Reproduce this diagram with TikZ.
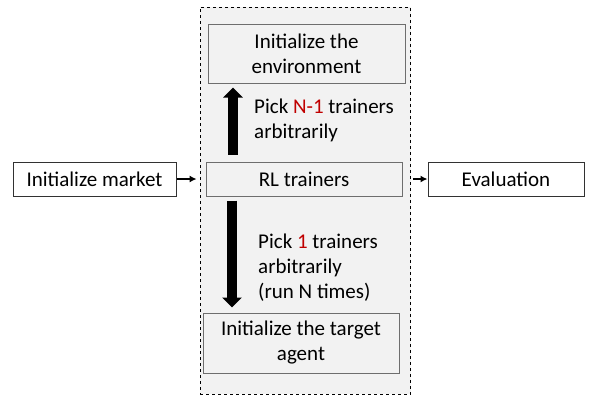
\documentclass[tikz,border=0pt]{standalone}
\usepackage{fontspec}
\setmainfont{Carlito}
\usetikzlibrary{arrows.meta}
\definecolor{panel}{RGB}{242,242,242}
\definecolor{innerline}{RGB}{110,110,110}
\definecolor{outerline}{RGB}{50,50,50}
\definecolor{accent}{RGB}{192,0,0}
\begin{document}
\begin{tikzpicture}[x=1pt,y=-1pt,
  every node/.style={font=\fontsize{21}{25}\selectfont},
  outerbox/.style={draw=outerline,line width=1pt,fill=white,inner sep=0pt},
  innerbox/.style={draw=innerline,line width=1pt,fill=panel,inner sep=0pt,align=center},
  note/.style={inner sep=0pt,align=left,anchor=west},
  smallarrow/.style={line width=1.4pt,-{Latex[length=7pt,width=7pt]}},
  bigarrow/.style={line width=10pt,-{Triangle[length=10pt,width=19pt]}}]
  \useasboundingbox (0,0) rectangle (589,397);
  % dashed stage holding the training loop
  \node[draw=black,dashed,line width=0.8pt,fill=panel,inner sep=0pt,
        minimum width=210.5pt,minimum height=387pt] (stage) at (305.25,200.5) {};
  % boxes
  \node[outerbox,minimum width=163pt,minimum height=34pt] (market) at (94.5,179) {Initialize market};
  \node[outerbox,minimum width=156pt,minimum height=34pt] (eval) at (506,179) {Evaluation};
  \node[innerbox,minimum width=196pt,minimum height=34pt] (rl) at (304,179) {RL trainers};
  \node[innerbox,minimum width=197pt,minimum height=59pt] (env) at (306.5,53.5) {Initialize the\\environment};
  \node[innerbox,minimum width=196pt,minimum height=60pt] (target) at (301,343) {Initialize the target\\agent};
  % labels beside the thick arrows
  \node[note] (upnote) at (254,120.5) {Pick \textcolor{accent}{N-1} trainers\\arbitrarily};
  \node[note] (downnote) at (258,267.5) {Pick \textcolor{accent}{1} trainers\\arbitrarily\\(run N times)};
  % connectors
  \coordinate (upx) at (233,0);
  \coordinate (downx) at (232,0);
  \draw[bigarrow,shorten <=7pt,shorten >=4pt] (rl.north -| upx) -- (env.south -| upx);
  \draw[bigarrow,shorten <=4pt,shorten >=5pt] (rl.south -| downx) -- (target.north -| downx);
  \draw[smallarrow,shorten >=3pt] (market.east) -- (market.east -| stage.west);
  \draw[smallarrow,shorten <=2pt] (eval.west -| stage.east) -- (eval.west);
\end{tikzpicture}
\end{document}
